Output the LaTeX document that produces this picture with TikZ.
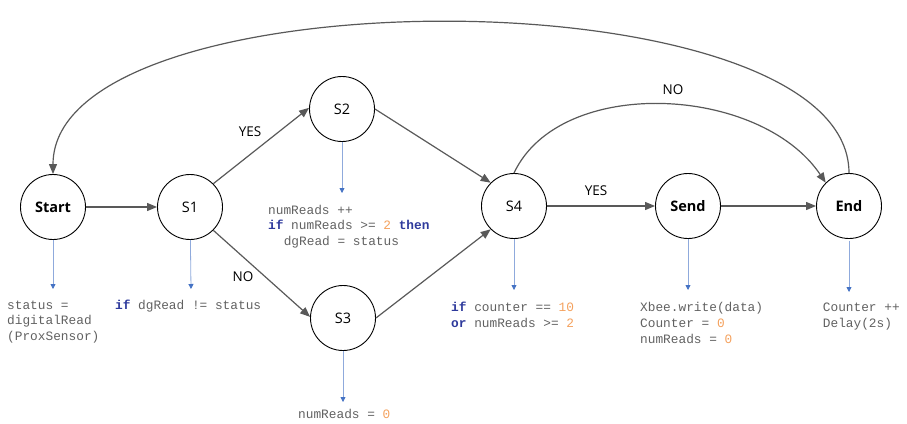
\documentclass[tikz,border=0pt]{standalone}
\usepackage{fontspec}
\setmainfont{Open Sans}
\newfontfamily\codefont{Liberation Mono}
\usetikzlibrary{arrows.meta}
\definecolor{edgecol}{HTML}{595959}
\definecolor{codecol}{HTML}{616161}
\definecolor{kwcol}{HTML}{2E3A9C}
\definecolor{numcol}{HTML}{F4A15D}
\definecolor{blueline}{HTML}{8FAADC}
\definecolor{bluetip}{HTML}{4472C4}
\newcommand{\kwd}[1]{\textcolor{kwcol}{\bfseries #1}}
\newcommand{\nmb}[1]{\textcolor{numcol}{#1}}
\begin{document}
\begin{tikzpicture}[x=1pt,y=-1pt,
 state/.style={circle, draw=black, line width=0.9pt, minimum size=65pt, inner sep=0pt, font=\fontsize{14.5}{16}\selectfont},
 trans/.style={draw=edgecol, line width=1.2pt, -{Triangle[length=10pt,width=8pt]}},
 note/.style={draw=blueline, line width=0.8pt, -{Triangle[length=5pt,width=5pt,color=bluetip]}},
 code/.style={anchor=base west, inner sep=0pt, text=codecol, font=\codefont\fontsize{12.8}{15}\selectfont},
 lbl/.style={font=\fontsize{13.5}{15}\selectfont, text=black, inner sep=0pt}]
\useasboundingbox (0,0) rectangle (907,423);

\node[state] (Start) at (53,207) {\textbf{Start}};
\node[state] (S1) at (190,207) {S1};
\node[state] (S2) at (342,109) {S2};
\node[state] (S3) at (343,318) {S3};
\node[state] (S4) at (514,206) {S4};
\node[state] (Send) at (688,206) {\textbf{Send}};
\node[state] (End) at (849,206) {\textbf{End}};

\draw[trans] (Start) -- (S1);
\draw[trans] (S1.45) -- (S2.178);
\draw[trans] (S1.-45) -- (S3.178);
\draw[trans] (S2.east) -- (S4.135);
\draw[trans] (S3.east) -- (S4.225);
\draw[trans] (S4) -- (Send);
\draw[trans] (Send) -- (End);
\draw[trans] (S4.north) .. controls (560,75) and (760,85) .. (End.135);
\draw[trans] (End.north) .. controls (849,-28) and (53,-28) .. (Start.north);

\node[lbl] (yes1) at (250,132) {YES};
\node[lbl] (no1) at (243,277) {NO};
\node[lbl] (yes2) at (596,191) {YES};
\node[lbl] (no2) at (673,90) {NO};

\coordinate (nStart) at (53,289);
\coordinate (nS1) at (191,289);
\coordinate (nS2) at (342,193);
\coordinate (nS3) at (343,402);
\coordinate (nS4) at (514,290);
\coordinate (nSend) at (688,290);
\coordinate (nEnd) at (849,292);
\draw[note] (Start) -- (nStart);
\draw[note] (S1) -- (nS1);
\draw[note] (S2) -- (nS2);
\draw[note] (S3) -- (nS3);
\draw[note] (S4) -- (nS4);
\draw[note] (Send) -- (nSend);
\draw[note, shorten <=2pt] (End) -- (nEnd);

\node[code] (a1) at (7,309) {status =};
\node[code] (a2) at (7,324.7) {digitalRead};
\node[code] (a3) at (7,340.4) {(ProxSensor)};

\node[code] (b1) at (115,309) {\kwd{if} dgRead != status};

\node[code] (c1) at (268,214.7) {numReads ++};
\node[code] (c2) at (268,229.9) {\kwd{if} numReads >= \nmb{2} \kwd{then}};
\node[code] (c3) at (283.6,245.7) {dgRead = status};

\node[code] (d1) at (298,418) {numReads = \nmb{0}};

\node[code] (e1) at (451,311.3) {\kwd{if} counter == \nmb{10}};
\node[code] (e2) at (451,327.3) {\kwd{or} numReads >= \nmb{2}};

\node[code] (f1) at (640,311.3) {Xbee.write(data)};
\node[code] (f2) at (640,327.3) {Counter = \nmb{0}};
\node[code] (f3) at (640,343.3) {numReads = \nmb{0}};

\node[code] (g1) at (822.7,311.3) {Counter ++};
\node[code] (g2) at (822.7,327.3) {Delay(2s)};
\end{tikzpicture}
\end{document}
